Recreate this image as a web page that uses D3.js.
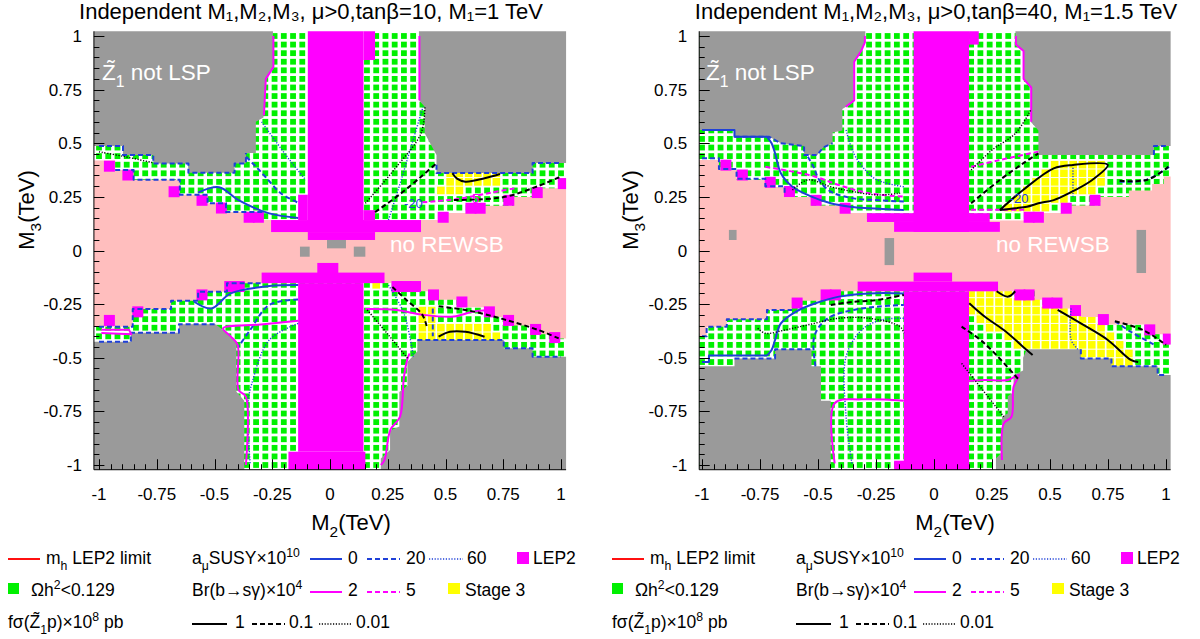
<!DOCTYPE html>
<html><head><meta charset="utf-8">
<script src="https://cdn.jsdelivr.net/npm/d3@7/dist/d3.min.js"></script>
<style>
html,body{margin:0;padding:0;background:#fff;}
text{font-family:"Liberation Sans",Arial,Helvetica,sans-serif;}
</style></head>
<body><svg id="chart" width="1200" height="639"></svg>
<script>
// ================= DATA =================
const tickValues = [-1,-0.75,-0.5,-0.25,0,0.25,0.5,0.75,1];
const tickLabels = ["-1","-0.75","-0.5","-0.25","0","0.25","0.5","0.75","1"];
const minorTickStep = 0.05;
const scanStep = 0.04;          // scan grid of the (M2,M3) plane
const titles = ["Independent M\u2081,M\u2082,M\u2083, \u03bc>0,tan\u03b2=10, M\u2081=1 TeV",
                "Independent M\u2081,M\u2082,M\u2083, \u03bc>0,tan\u03b2=40, M\u2081=1.5 TeV"];

// ---------- LEFT PANEL (tanb=10, M1=1 TeV) ----------
const L_pink = [[-1.03,0.42],[-0.93,0.42],[-0.93,0.375],[-0.85,0.375],[-0.85,0.33],[-0.65,0.33],[-0.65,0.26],[-0.53,0.26],[-0.53,0.22],[-0.45,0.22],[-0.45,0.18],[-0.29,0.18],[-0.29,0.142],[0.51,0.142],[0.51,0.175],[0.67,0.175],[0.67,0.209],[0.794,0.209],[0.794,0.25],[0.918,0.25],[0.918,0.29],[0.994,0.29],[0.994,0.335],[1.03,0.335],
  [1.03,-0.41],[0.994,-0.41],[0.994,-0.39],[0.91,-0.39],[0.91,-0.35],[0.794,-0.35],[0.794,-0.31],[0.71,-0.31],[0.71,-0.265],[0.593,-0.265],[0.593,-0.23],[0.468,-0.23],[0.468,-0.19],[0.394,-0.19],[0.394,-0.152],[-0.446,-0.153],[-0.446,-0.192],[-0.571,-0.192],[-0.571,-0.234],[-0.688,-0.234],[-0.688,-0.273],[-0.854,-0.273],[-0.854,-0.355],[-1.03,-0.355]];
const L_gray = [
  [[-1.03,1.03],[-0.247,1.03],[-0.247,0.855],[-0.28,0.80],[-0.288,0.62],[-0.321,0.60],[-0.321,0.455],[-0.364,0.455],[-0.364,0.406],[-0.413,0.406],[-0.413,0.363],[-0.613,0.363],[-0.613,0.406],[-0.765,0.406],[-0.765,0.445],[-0.896,0.445],[-0.896,0.487],[-1.03,0.487]],
  [[0.385,1.03],[0.385,0.70],[0.41,0.67],[0.41,0.547],[0.461,0.445],[0.461,0.361],[0.877,0.361],[0.877,0.408],[1.03,0.408],[1.03,1.03]],
  [[-1.03,-1.03],[-1.03,-0.425],[-0.862,-0.425],[-0.862,-0.383],[-0.654,-0.383],[-0.654,-0.344],[-0.496,-0.344],[-0.446,-0.383],[-0.405,-0.425],[-0.405,-0.658],[-0.371,-0.70],[-0.371,-1.03]],
  [[0.22,-1.03],[0.22,-0.97],[0.26,-0.93],[0.26,-0.84],[0.30,-0.82],[0.30,-0.66],[0.335,-0.63],[0.335,-0.52],[0.378,-0.47],[0.378,-0.417],[0.752,-0.417],[0.752,-0.456],[0.877,-0.456],[0.877,-0.495],[1.03,-0.495],[1.03,-1.03]]];
const L_grayCells = [[-0.13,-0.088,-0.029,0.018],[-0.013,0.069,0.01,0.049],[0.103,0.153,-0.029,0.018]];
const L_lep2Band = [[-0.096,0.145,0.086,1.03],[0.145,0.195,0.888,1.03],[-0.138,-0.096,0.142,0.26],[0.145,0.195,0.142,0.188],[-0.255,0.394,0.086,0.142],[-0.096,0.195,0.049,0.086],
  [-0.055,0.036,-0.105,-0.058],[-0.296,0.236,-0.152,-0.103],[-0.138,0.145,-0.938,-0.152],[-0.18,0.153,-1.03,-0.938]];
const L_lep2Points = [[-0.955,0.393],[-0.875,0.352],[-0.675,0.274],[-0.554,0.234],[-0.47,0.198],[-0.35,0.155],[-0.31,0.155],
  [0.49,0.155],[0.61,0.197],[0.65,0.197],[0.774,0.234],[0.897,0.27],[1.01,0.312],
  [-0.955,-0.326],[-0.832,-0.286],[-0.554,-0.207],[-0.434,-0.168],[-0.393,-0.168],
  [0.29,-0.168],[0.33,-0.168],[0.37,-0.168],[0.448,-0.207],[0.571,-0.24],[0.69,-0.286],[0.773,-0.326],[0.89,-0.368],[0.973,-0.406]];
const L_stage3 = [
  [[0.50,0.362],[0.75,0.362],[0.75,0.32],[0.65,0.30],[0.60,0.28],[0.55,0.25],[0.47,0.25],[0.47,0.32],[0.50,0.32]],
  [[0.385,-0.27],[0.47,-0.27],[0.47,-0.32],[0.60,-0.33],[0.70,-0.35],[0.752,-0.38],[0.752,-0.417],[0.385,-0.417]],
  [[0.19,-0.15],[0.24,-0.15],[0.24,-0.19],[0.19,-0.19]]];
// contours (smooth)
const L_amu0 = [[[-0.571,0.27],[-0.48,0.295],[-0.396,0.235],[-0.263,0.173],[-0.138,0.152]],
  [[-0.588,-0.239],[-0.513,-0.27],[-0.43,-0.20],[-0.263,-0.166],[-0.138,-0.161]]];
const L_amu20 = [[[-0.363,0.437],[-0.32,0.39],[-0.28,0.344],[-0.213,0.267],[-0.138,0.223]],
  [[-0.138,-0.228],[-0.263,-0.254],[-0.346,-0.371],[-0.396,-0.448]]];
const L_amu60 = [[[-0.296,0.60],[-0.229,0.50],[-0.163,0.406],[-0.105,0.329]],
  [[0.253,0.142],[0.30,0.30],[0.35,0.48],[0.403,0.67]],
  [[-0.138,-0.34],[-0.263,-0.417],[-0.338,-0.619],[-0.355,-0.712],[-0.346,-0.992]],
  [[0.253,-0.161],[0.32,-0.293],[0.361,-0.495]]];
const L_bsg2 = [[[-0.138,-0.327],[-0.30,-0.345],[-0.463,-0.363],[-0.43,-0.40],[-0.40,-0.44],[-0.396,-0.65],[-0.364,-0.682],[-0.364,-1.0]],
  [[0.153,-0.273],[0.286,-0.277],[0.403,-0.30],[0.536,-0.308],[0.619,-0.285],[0.686,-0.277]],
  [[0.345,-0.48],[0.336,-0.503],[0.32,-0.59],[0.303,-0.775],[0.261,-0.837],[0.236,-0.977],[0.22,-1.0]]];
const L_bsg5 = [[[0.40,0.225],[0.55,0.24],[0.70,0.27],[0.80,0.29]]];
const L_sig1 = [[[0.53,0.36],[0.55,0.335],[0.586,0.321],[0.669,0.337],[0.736,0.357]],
  [[0.47,-0.402],[0.519,-0.379],[0.586,-0.379],[0.669,-0.402]]];
const L_sig01 = [[[0.195,0.179],[0.30,0.26],[0.394,0.344],[0.46,0.406]],
  [[0.536,0.235],[0.752,0.249],[0.90,0.30],[1.0,0.345]],
  [[0.27,-0.17],[0.33,-0.23],[0.40,-0.30],[0.42,-0.36]],
  [[0.47,-0.26],[0.60,-0.28],[0.75,-0.32],[0.90,-0.37],[0.99,-0.41]]];
const L_sig001 = [[[-1.0,0.46],[-0.9,0.44],[-0.77,0.41]],
  [[0.153,0.22],[0.28,0.38],[0.394,0.546],[0.411,0.67]],
  [[0.161,-0.277],[0.25,-0.39],[0.336,-0.503]]];
// contours running along region edges (stepped)
const L_amu20Edge = [[[-1.0,0.487],[-0.896,0.487],[-0.896,0.445],[-0.765,0.445],[-0.765,0.406],[-0.613,0.406],[-0.613,0.363],[-0.413,0.363],[-0.413,0.406],[-0.364,0.406],[-0.364,0.455]],
  [[-0.93,0.375],[-0.85,0.375],[-0.85,0.33],[-0.65,0.33],[-0.65,0.26],[-0.53,0.26],[-0.53,0.22],[-0.45,0.22],[-0.45,0.18],[-0.29,0.18]],
  [[0.461,0.40],[0.461,0.361],[0.877,0.361],[0.877,0.408],[1.0,0.408]],
  [[-1.0,-0.355],[-0.854,-0.355],[-0.854,-0.273],[-0.688,-0.273],[-0.688,-0.234],[-0.571,-0.234],[-0.571,-0.192],[-0.446,-0.192],[-0.446,-0.153],[-0.30,-0.153]],
  [[-1.0,-0.425],[-0.862,-0.425],[-0.862,-0.383],[-0.654,-0.383],[-0.654,-0.344],[-0.496,-0.344]],
  [[0.378,-0.417],[0.752,-0.417],[0.752,-0.456],[0.877,-0.456],[0.877,-0.495],[1.0,-0.495]],
  [[0.445,-0.27],[0.445,-0.40]]];
const L_bsg2Edge = [[[-0.245,1.0],[-0.245,0.855],[-0.278,0.80],[-0.286,0.63]],[[0.387,1.0],[0.387,0.70]],
  [[-0.99,-0.37],[-0.87,-0.37],[-0.86,-0.39],[-0.99,-0.385]]];
const L_text = [{t:"-20",x:0.32,y:0.198,c:"blue"},{t:"5",x:0.615,y:0.221,c:"magenta"}];
const L_labelNotLSP = [-0.987,0.795];
const L_labelREWSB = [0.26,-0.007];

// ---------- RIGHT PANEL (tanb=40, M1=1.5 TeV) ----------
const R_pink = [[-1.03,0.422],[-0.927,0.422],[-0.927,0.375],[-0.851,0.375],[-0.851,0.33],[-0.727,0.33],[-0.727,0.295],[-0.644,0.295],[-0.644,0.25],[-0.528,0.25],[-0.528,0.21],[-0.405,0.21],[-0.405,0.175],[-0.289,0.175],[-0.289,0.14],[0.466,0.14],[0.466,0.175],[0.59,0.175],[0.59,0.21],[0.716,0.21],[0.716,0.25],[0.84,0.25],[0.84,0.28],[0.94,0.28],[0.94,0.31],[0.99,0.31],[0.99,0.345],[1.03,0.345],
  [1.03,-0.437],[0.99,-0.437],[0.99,-0.39],[0.914,-0.39],[0.914,-0.345],[0.749,-0.345],[0.749,-0.31],[0.633,-0.31],[0.633,-0.27],[0.55,-0.27],[0.55,-0.23],[0.434,-0.23],[0.434,-0.19],[-0.487,-0.19],[-0.487,-0.234],[-0.612,-0.234],[-0.612,-0.277],[-0.72,-0.277],[-0.72,-0.32],[-0.893,-0.32],[-0.893,-0.355],[-0.98,-0.355],[-0.98,-0.40],[-1.03,-0.40]];
const R_gray = [
  [[-1.03,1.03],[-0.296,1.03],[-0.296,0.97],[-0.3125,0.93],[-0.346,0.88],[-0.346,0.70],[-0.379,0.67],[-0.395,0.66],[-0.395,0.56],[-0.437,0.55],[-0.437,0.50],[-0.478,0.48],[-0.503,0.445],[-0.56,0.445],[-0.56,0.487],[-0.66,0.50],[-0.71,0.53],[-0.86,0.53],[-0.86,0.562],[-1.03,0.562]],
  [[0.351,1.03],[0.351,0.96],[0.384,0.93],[0.384,0.80],[0.417,0.76],[0.417,0.60],[0.45,0.56],[0.45,0.445],[0.948,0.445],[0.948,0.487],[1.03,0.487],[1.03,1.03]],
  [[-1.03,-1.03],[-1.03,-0.54],[-0.86,-0.54],[-0.86,-0.503],[-0.685,-0.503],[-0.685,-0.46],[-0.528,-0.46],[-0.528,-0.54],[-0.487,-0.54],[-0.487,-0.70],[-0.445,-0.70],[-0.445,-1.03]],
  [[0.267,-1.03],[0.267,-0.97],[0.293,-0.94],[0.293,-0.775],[0.318,-0.76],[0.318,-0.68],[0.343,-0.66],[0.343,-0.58],[0.384,-0.56],[0.384,-0.50],[0.40,-0.46],[0.633,-0.46],[0.633,-0.503],[0.765,-0.503],[0.765,-0.54],[0.964,-0.54],[0.964,-0.58],[1.03,-0.58],[1.03,-1.03]]];
const R_grayCells = [[-0.884,-0.851,0.049,0.096],[-0.213,-0.172,-0.068,0.058],[0.873,0.914,-0.105,0.096]];
const R_lep2Band = [[-0.088,0.151,0.087,1.03],[0.151,0.193,0.96,1.03],[-0.289,0.24,0.133,0.174],[-0.172,0.284,0.087,0.133],
  [-0.088,0.078,-0.145,-0.103],[-0.329,0.276,-0.19,-0.145],[-0.13,0.151,-1.03,-0.19],[-0.172,0.151,-1.03,-0.98]];
const R_lep2Points = [[-0.897,0.398],[-0.826,0.352],[-0.706,0.318],[-0.623,0.275],[-0.508,0.234],[-0.383,0.197],
  [0.41,0.155],[0.45,0.155],[0.57,0.197],[0.694,0.234],
  [-0.59,-0.245],[-0.465,-0.207],[-0.425,-0.207],
  [0.37,-0.207],[0.41,-0.207],[0.49,-0.245],[0.53,-0.245],[0.61,-0.28],[0.73,-0.322],[0.93,-0.37],[1.01,-0.413]];
const R_stage3 = [
  [[0.30,0.16],[0.30,0.21],[0.40,0.30],[0.50,0.40],[0.55,0.42],[0.76,0.42],[0.76,0.30],[0.62,0.25],[0.52,0.20],[0.44,0.17]],
  [[0.151,-0.19],[0.34,-0.19],[0.34,-0.23],[0.47,-0.23],[0.47,-0.27],[0.59,-0.27],[0.59,-0.31],[0.71,-0.31],[0.75,-0.38],[0.84,-0.46],[0.86,-0.52],[0.76,-0.52],[0.76,-0.50],[0.633,-0.50],[0.633,-0.46],[0.38,-0.46],[0.25,-0.38],[0.151,-0.30]]];
const R_amu0 = [[[-0.72,0.53],[-0.70,0.50],[-0.685,0.453],[-0.66,0.36],[-0.61,0.297],[-0.528,0.251],[-0.445,0.22],[-0.362,0.204],[-0.28,0.197],[-0.13,0.189]],
  [[-0.72,-0.49],[-0.70,-0.464],[-0.685,-0.417],[-0.66,-0.34],[-0.595,-0.285],[-0.511,-0.246],[-0.41,-0.215],[-0.28,-0.2],[-0.13,-0.2]]];
const R_amu20 = [[[-0.544,0.437],[-0.519,0.39],[-0.495,0.329],[-0.445,0.274],[-0.346,0.243],[-0.246,0.235],[-0.13,0.228]],
  [[-0.511,-0.54],[-0.519,-0.417],[-0.495,-0.355],[-0.445,-0.308],[-0.346,-0.277],[-0.246,-0.262],[-0.13,-0.254]],
  [[1.013,0.39],[0.914,0.329],[0.797,0.321]],
  [[0.78,-0.33],[0.85,-0.38],[0.95,-0.44]]];
const R_amu60 = [[[-0.379,0.562],[-0.346,0.453],[-0.296,0.375],[-0.246,0.329],[-0.13,0.297]],
  [[-0.354,-0.992],[-0.379,-0.775],[-0.379,-0.495],[-0.3125,-0.371],[-0.229,-0.324],[-0.13,-0.316]],
  [[0.599,0.399],[0.599,0.251]],
  [[0.591,-0.27],[0.591,-0.417],[0.62,-0.46]]];
const R_bsg2 = [[[-0.428,-0.992],[-0.428,-0.712],[-0.3125,-0.694],[-0.13,-0.70]],
  [[0.119,-0.611],[0.218,-0.604],[0.318,-0.604],[0.367,-0.58],[0.343,-0.635],[0.334,-0.775],[0.301,-0.806],[0.293,-0.977]]];
const R_bsg5 = [[[-0.727,0.39],[-0.62,0.37],[-0.511,0.344],[-0.41,0.305],[-0.28,0.267],[-0.13,0.251]],
  [[0.16,0.39],[0.284,0.422],[0.45,0.461]],
  [[0.16,0.19],[0.30,0.19],[0.40,0.19]]];
const R_sig1 = [[[0.284,0.189],[0.384,0.282],[0.516,0.383],[0.599,0.399],[0.749,0.399],[0.682,0.329],[0.582,0.267],[0.516,0.235],[0.45,0.22],[0.40,0.204],[0.351,0.197],[0.284,0.189]],
  [[0.152,-0.246],[0.218,-0.308],[0.301,-0.371],[0.40,-0.464],[0.425,-0.487]],
  [[0.533,-0.277],[0.633,-0.34],[0.749,-0.417],[0.848,-0.51],[0.88,-0.52]],
  [[0.27,-0.19],[0.32,-0.215],[0.35,-0.19]]];
const R_sig01 = [[[0.16,0.22],[0.284,0.329],[0.384,0.406],[0.45,0.453]],
  [[0.80,0.325],[0.92,0.33],[1.01,0.39]],
  [[-0.445,-0.254],[-0.346,-0.239],[-0.246,-0.231],[-0.13,-0.207]],
  [[0.119,-0.355],[0.218,-0.433],[0.367,-0.604]],
  [[0.78,-0.33],[0.90,-0.37],[1.0,-0.44]]];
const R_sig001 = [[[-0.61,0.282],[-0.544,0.329],[-0.445,0.297],[-0.346,0.274],[-0.246,0.259],[-0.146,0.267]],
  [[0.16,0.375],[0.251,0.469],[0.351,0.546],[0.417,0.655]],
  [[-0.76,-0.363],[-0.727,-0.386],[-0.644,-0.371],[-0.544,-0.347],[-0.41,-0.316],[-0.28,-0.316],[-0.146,-0.355],[-0.13,-0.386]],
  [[0.119,-0.526],[0.301,-0.775]]];
const R_amu0Edge = [[[-1.0,0.562],[-0.86,0.562],[-0.86,0.53],[-0.72,0.53]],
  [[-1.0,-0.52],[-0.97,-0.52],[-0.97,-0.49],[-0.72,-0.49]]];
const R_amu20Edge = [[[-1.0,0.43],[-0.927,0.43],[-0.927,0.38],[-0.851,0.38],[-0.851,0.335],[-0.727,0.335],[-0.727,0.30],[-0.644,0.30],[-0.644,0.255]],
  [[-0.86,0.53],[-0.71,0.53],[-0.66,0.50],[-0.56,0.487],[-0.56,0.445],[-0.503,0.445],[-0.478,0.48],[-0.437,0.50]],
  [[-1.0,-0.40],[-0.98,-0.40],[-0.98,-0.355],[-0.893,-0.355],[-0.893,-0.32],[-0.72,-0.32],[-0.72,-0.277],[-0.612,-0.277]],
  [[-0.86,-0.503],[-0.685,-0.503],[-0.685,-0.46],[-0.528,-0.46]],
  [[0.633,-0.46],[0.633,-0.503],[0.765,-0.503],[0.765,-0.54],[0.964,-0.54],[0.964,-0.58],[1.0,-0.58]],
  [[0.948,0.445],[0.948,0.487],[1.0,0.487]]];
const R_bsg2Edge = [[[-0.298,1.0],[-0.298,0.97],[-0.314,0.93],[-0.344,0.88],[-0.344,0.70],[-0.38,0.67]],
  [[0.353,1.0],[0.353,0.96],[0.386,0.93],[0.386,0.80],[0.419,0.76],[0.419,0.60]]];
const R_text = [{t:"-20",x:0.326,y:0.221,c:"blue"}];
const R_labelNotLSP = [-0.983,0.795];
const R_labelREWSB = [0.267,-0.007];

// ---------- LEGEND ----------
const legendLabels = {
  mh:[["m"],["h","sub"],[" LEP2 limit"]],
  amuHead:[["a"],["\u03bc","sub"],["SUSY\u00d710"],["10","sup"]],
  amuVals:["0","20","60"],
  lep2:[["LEP2"]],
  omega:[["\u03a9h"],["2","sup"],["<0.129"]],
  bsgHead:[["Br(b\u2192s\u03b3)\u00d710"],["4","sup"]],
  bsgVals:["2","5"],
  stage3:[["Stage 3"]],
  sigHead:[["f\u03c3(Z\u0303"],["1","sub"],["p)\u00d710"],["8","sup"],[" pb"]],
  sigVals:["1","0.1","0.01"]
};

// ================= STYLE / LAYOUT =================
const C = {pink:"#ffbebe", gray:"#9a9a9a", magenta:"#ff00ff", green:"#00f000", yellow:"#ffff00", blue:"#1f40d8", black:"#000", red:"#ff1010"};
const lineStyle = {
  amu0:{s:C.blue,w:2,d:null}, amu20:{s:C.blue,w:2,d:"5,3"}, amu60:{s:C.blue,w:1.4,d:"1.2,1.6"},
  bsg2:{s:C.magenta,w:2,d:null}, bsg5:{s:C.magenta,w:2,d:"5,3"},
  sig1:{s:C.black,w:2,d:null}, sig01:{s:C.black,w:2,d:"5,3"}, sig001:{s:C.black,w:1.4,d:"1.2,1.6"},
  mh:{s:C.red,w:2,d:null}
};
const layouts = [
  {id:"L", xr:[99,561], yr:[465,36], fx:[-1.022,1.022], fy:[-1.022,1.022], titleX:311, yTitleX:26, xTitleX:351, lx:0},
  {id:"R", xr:[702,1166], yr:[465,36], fx:[-1.012,1.02], fy:[-1.022,1.022], titleX:936, yTitleX:630, xTitleX:955, lx:604}
];
const panels = [
  {pink:L_pink, gray:L_gray, grayCells:L_grayCells, band:L_lep2Band, lep2:L_lep2Points, stage3:L_stage3,
   lines:{amu0:L_amu0, amu20:L_amu20, amu60:L_amu60, bsg2:L_bsg2, bsg5:L_bsg5, sig1:L_sig1, sig01:L_sig01, sig001:L_sig001},
   edges:{amu20:L_amu20Edge, bsg2:L_bsg2Edge}, text:L_text, notLSP:L_labelNotLSP, rewsb:L_labelREWSB},
  {pink:R_pink, gray:R_gray, grayCells:R_grayCells, band:R_lep2Band, lep2:R_lep2Points, stage3:R_stage3,
   lines:{amu0:R_amu0, amu20:R_amu20, amu60:R_amu60, bsg2:R_bsg2, bsg5:R_bsg5, sig1:R_sig1, sig01:R_sig01, sig001:R_sig001},
   edges:{amu0:R_amu0Edge, amu20:R_amu20Edge, bsg2:R_bsg2Edge}, text:R_text, notLSP:R_labelNotLSP, rewsb:R_labelREWSB}
];

const svg = d3.select("#chart");
const defs = svg.append("defs");

function rich(sel, parts, size){
  let shift = 0;
  parts.forEach(p=>{
    const ts = sel.append("tspan").text(p[0]);
    let target = 0;
    if(p[1]==="sub") target = size*0.32;
    if(p[1]==="sup") target = -size*0.42;
    ts.attr("dy", target - shift);
    if(p[1]) ts.attr("font-size", size*0.7);
    shift = target;
  });
}

function drawPanel(P, Lay, idx){
  const x = d3.scaleLinear().domain([-1,1]).range(Lay.xr);
  const y = d3.scaleLinear().domain([-1,1]).range(Lay.yr);
  const fx0 = x(Lay.fx[0]), fx1 = x(Lay.fx[1]), fy0 = y(Lay.fy[0]), fy1 = y(Lay.fy[1]);
  defs.append("clipPath").attr("id","clip"+Lay.id).append("rect")
    .attr("x",fx0).attr("y",fy1).attr("width",fx1-fx0).attr("height",fy0-fy1);
  const g = svg.append("g");
  const plot = g.append("g").attr("clip-path",`url(#clip${Lay.id})`);
  const poly = d3.line().x(d=>x(d[0])).y(d=>y(d[1]));

  // scan grid points
  const grid = d3.range(-1, 1+1e-9, scanStep).map(v=>+v.toFixed(3));
  const pts = [];
  grid.forEach(gx=>grid.forEach(gy=>pts.push([gx,gy])));
  const gs = 5.8;
  plot.append("g").selectAll("rect").data(pts).join("rect")
    .attr("x",d=>x(d[0])-gs/2).attr("y",d=>y(d[1])-gs/2).attr("width",gs).attr("height",gs).attr("fill",C.green);
  // stage 3 points
  const ys = 7.6;
  const st = pts.filter(p=>P.stage3.some(pg=>d3.polygonContains(pg,p)));
  plot.append("g").selectAll("rect").data(st).join("rect")
    .attr("x",d=>x(d[0])-ys/2).attr("y",d=>y(d[1])-ys/2).attr("width",ys).attr("height",ys).attr("fill",C.yellow);
  // no REWSB
  plot.append("path").attr("d",poly(P.pink)+"Z").attr("fill",C.pink);
  // not LSP
  plot.append("g").selectAll("path").data(P.gray).join("path").attr("d",d=>poly(d)+"Z").attr("fill",C.gray);
  plot.append("g").selectAll("rect").data(P.grayCells).join("rect")
    .attr("x",d=>x(d[0])).attr("width",d=>x(d[1])-x(d[0])).attr("y",d=>y(d[3])).attr("height",d=>y(d[2])-y(d[3])).attr("fill",C.gray);
  // LEP2
  plot.append("g").selectAll("rect").data(P.band).join("rect")
    .attr("x",d=>x(d[0])).attr("width",d=>x(d[1])-x(d[0])).attr("y",d=>y(d[3])).attr("height",d=>y(d[2])-y(d[3])).attr("fill",C.magenta);
  const ls = 11;
  plot.append("g").selectAll("rect").data(P.lep2).join("rect")
    .attr("x",d=>x(d[0])-ls/2).attr("y",d=>y(d[1])-ls/2).attr("width",ls).attr("height",ls).attr("fill",C.magenta);

  // contours
  const smooth = d3.line().x(d=>x(d[0])).y(d=>y(d[1])).curve(d3.curveCatmullRom.alpha(0.5));
  const lg = plot.append("g").attr("fill","none").attr("stroke-linejoin","round");
  Object.entries(P.edges).forEach(([k,arr])=>{
    const s = lineStyle[k];
    lg.selectAll(null).data(arr).join("path").attr("d",poly)
      .attr("stroke",s.s).attr("stroke-width",s.w).attr("stroke-dasharray",s.d);
  });
  Object.entries(P.lines).forEach(([k,arr])=>{
    const s = lineStyle[k];
    lg.selectAll(null).data(arr).join("path").attr("d",smooth)
      .attr("stroke",s.s).attr("stroke-width",s.w).attr("stroke-dasharray",s.d);
  });
  // in-plot texts
  P.text.forEach(t=>{
    plot.append("text").attr("x",x(t.x)).attr("y",y(t.y)).attr("font-size",13)
      .attr("fill",t.c==="blue"?C.blue:C.magenta).text(t.t);
  });
  const nl = plot.append("text").attr("x",x(P.notLSP[0])).attr("y",y(P.notLSP[1])).attr("font-size",22.5).attr("fill","#fff");
  rich(nl, [["Z\u0303"],["1","sub"],[" not LSP"]], 22.5);
  plot.append("text").attr("x",x(P.rewsb[0])).attr("y",y(P.rewsb[1])).attr("font-size",22.5).attr("fill","#fff").text("no REWSB");

  // axes
  const ax = g.append("g").attr("stroke","#000").attr("stroke-width",1);
  ax.append("line").attr("x1",fx0).attr("x2",fx0).attr("y1",fy0).attr("y2",fy1);
  ax.append("line").attr("x1",fx0).attr("x2",fx1).attr("y1",fy0).attr("y2",fy0);
  const minor = d3.range(-1, 1+1e-9, minorTickStep).map(v=>+v.toFixed(3));
  ax.selectAll(null).data(minor).join("line")
    .attr("x1",fx0).attr("x2",d=>fx0+(tickValues.includes(d)?10.5:5.5)).attr("y1",d=>Math.round(y(d))+0.5).attr("y2",d=>Math.round(y(d))+0.5);
  ax.selectAll(null).data(minor).join("line")
    .attr("y1",fy0).attr("y2",d=>fy0-(tickValues.includes(d)?10.5:5.5)).attr("x1",d=>Math.round(x(d))+0.5).attr("x2",d=>Math.round(x(d))+0.5);
  g.append("g").selectAll("text").data(tickValues).join("text")
    .attr("x",fx0-12).attr("y",d=>y(d)+6).attr("text-anchor","end").attr("font-size",17).text((d,i)=>tickLabels[i]);
  g.append("g").selectAll("text").data(tickValues).join("text")
    .attr("x",d=>x(d)).attr("y",500).attr("text-anchor","middle").attr("font-size",17).text((d,i)=>tickLabels[i]);
  // axis titles
  const xt = g.append("text").attr("x",Lay.xTitleX).attr("y",530).attr("text-anchor","middle").attr("font-size",22);
  rich(xt, [["M"],["2","sub"],["(TeV)"]], 22);
  const yt = g.append("text").attr("transform",`translate(${Lay.yTitleX+8},210) rotate(-90)`).attr("text-anchor","middle").attr("font-size",22);
  rich(yt, [["M"],["3","sub"],["(TeV)"]], 22);
  // title
  g.append("text").attr("x",Lay.titleX).attr("y",19).attr("text-anchor","middle").attr("font-size",22).text(titles[idx]);

  // legend
  const lx = Lay.lx, L = g.append("g");
  const fs = 17.5;
  const seg = (x1,x2,yy,k)=>{const s=lineStyle[k]; L.append("line").attr("x1",x1+lx).attr("x2",x2+lx).attr("y1",yy).attr("y2",yy)
      .attr("stroke",s.s).attr("stroke-width",s.w).attr("stroke-dasharray",s.d);};
  const txt = (xx,yy,parts)=>{const t=L.append("text").attr("x",xx+lx).attr("y",yy).attr("font-size",fs); rich(t,parts,fs);};
  const box = (x1,y1,w,h,c)=>L.append("rect").attr("x",x1+lx).attr("y",y1).attr("width",w).attr("height",h).attr("fill",c);
  const r1=564, r2=596, r3=628;
  seg(8,40,r1-5,"mh"); txt(46,r1,legendLabels.mh);
  txt(192,r1,legendLabels.amuHead);
  seg(310,342,r1-5,"amu0"); txt(348,r1,[[legendLabels.amuVals[0]]]);
  seg(367,400,r1-5,"amu20"); txt(406,r1,[[legendLabels.amuVals[1]]]);
  seg(429,463,r1-5,"amu60"); txt(467,r1,[[legendLabels.amuVals[2]]]);
  box(517,552,12,12,C.magenta); txt(533,r1,legendLabels.lep2);
  box(8,583,11,11,C.green); txt(31,r2,legendLabels.omega);
  txt(192,r2,legendLabels.bsgHead);
  seg(310,342,r2-4,"bsg2"); txt(348,r2,[[legendLabels.bsgVals[0]]]);
  seg(367,400,r2-4,"bsg5"); txt(406,r2,[[legendLabels.bsgVals[1]]]);
  box(448,583,12,11,C.yellow); txt(465,r2,legendLabels.stage3);
  txt(8,r3,legendLabels.sigHead);
  seg(192,227,r3-4,"sig1"); txt(235,r3,[[legendLabels.sigVals[0]]]);
  seg(252,285,r3-4,"sig01"); txt(289,r3,[[legendLabels.sigVals[1]]]);
  seg(319,352,r3-4,"sig001"); txt(356,r3,[[legendLabels.sigVals[2]]]);
}
panels.forEach((P,i)=>drawPanel(P, layouts[i], i));
</script></body></html>
